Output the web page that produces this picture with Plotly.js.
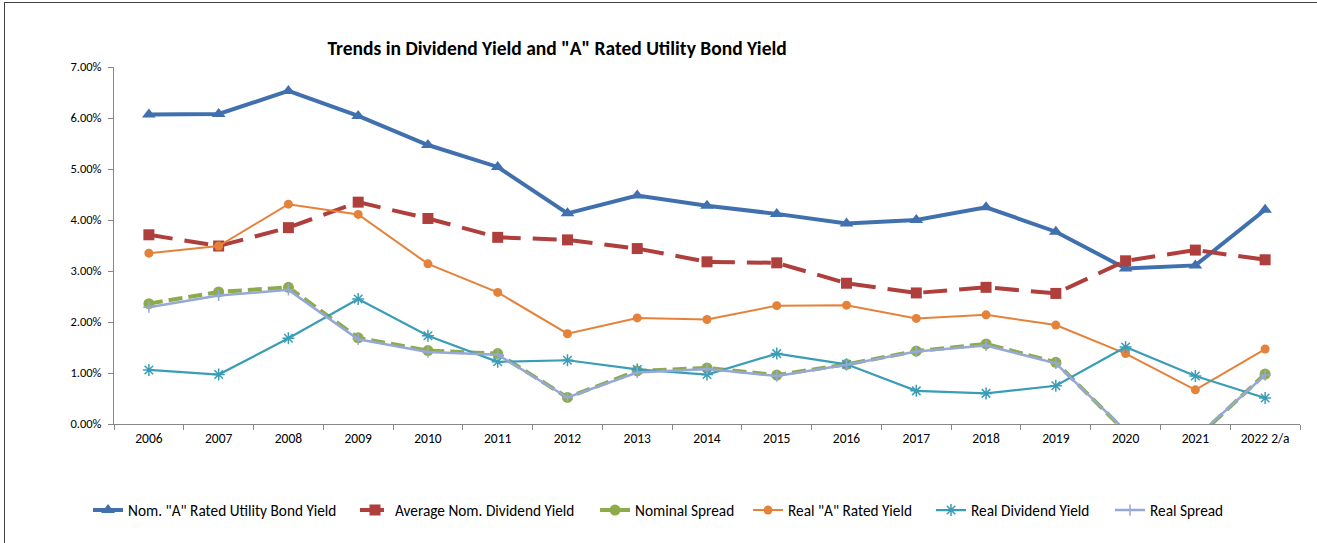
<!DOCTYPE html>
<html>
<head>
<meta charset="utf-8">
<script src="https://cdn.plot.ly/plotly-3.0.1.min.js"></script>
<style>
  html, body { margin: 0; padding: 0; background: #fff; }
  #wrap { position: relative; width: 1317px; height: 543px; overflow: hidden; }
  #frame { position: absolute; left: 4px; top: 2px; width: 1400px; height: 600px; border-left: 1.5px solid #404040; border-top: 1.5px solid #404040; pointer-events: none; z-index: 5; }
  #chart { position: absolute; left: 0; top: 0; width: 1317px; height: 543px; }
</style>
</head>
<body>
<div id="wrap">
  <div id="chart"></div>
  <div id="frame"></div>
</div>
<script>
const years = ["2006","2007","2008","2009","2010","2011","2012","2013","2014","2015","2016","2017","2018","2019","2020","2021","2022 2/a"];

const nomBondYield   = [0.0607,0.0608,0.0653,0.0604,0.0547,0.0504,0.0413,0.0448,0.0428,0.0412,0.0393,0.0400,0.0425,0.0377,0.0305,0.0311,0.0420];
const avgNomDivYield = [0.0371,0.0349,0.0385,0.0435,0.0403,0.0366,0.0361,0.0344,0.0318,0.0316,0.0276,0.0257,0.0268,0.0256,0.0320,0.0341,0.0322];
const nominalSpread  = [0.0236,0.0259,0.0268,0.0169,0.0144,0.0138,0.0052,0.0104,0.0110,0.0096,0.0117,0.0143,0.0157,0.0121,-0.0015,-0.0030,0.0098];
const realARated     = [0.0335,0.0349,0.0431,0.0411,0.0314,0.0258,0.0177,0.0208,0.0205,0.0232,0.0233,0.0207,0.0214,0.0194,0.0138,0.0067,0.0147];
const realDivYield   = [0.0106,0.0097,0.0168,0.0245,0.0173,0.0122,0.0125,0.0107,0.0097,0.0138,0.0117,0.0065,0.0060,0.0075,0.0151,0.0094,0.0051];
const realSpread     = [0.0229,0.0252,0.0263,0.0166,0.0141,0.0136,0.0052,0.0101,0.0108,0.0094,0.0116,0.0142,0.0154,0.0119,-0.0013,-0.0027,0.0096];

const seriesNames = ['Nom. "A" Rated Utility Bond Yield','Average Nom. Dividend Yield','Nominal Spread','Real "A" Rated Yield','Real Dividend Yield','Real Spread'];

const FONT = 'Carlito, "Liberation Sans Narrow", "Open Sans", sans-serif';

const traces = [
  {x: years, y: nomBondYield, name: seriesNames[0], legend: 'legend', type: 'scatter', mode: 'lines+markers',
   line: {color: '#4070AE', width: 4}, marker: {symbol: 'triangle-up', size: 12, color: '#4070AE'}},
  {x: years, y: avgNomDivYield, name: seriesNames[1], legend: 'legend2', type: 'scatter', mode: 'lines+markers',
   line: {color: '#AE3F3C', width: 4, dash: '24px,12px'}, marker: {symbol: 'square', size: 11, color: '#AE3F3C'}},
  {x: years, y: nominalSpread, name: seriesNames[2], legend: 'legend3', type: 'scatter', mode: 'lines+markers',
   line: {color: '#8EAB4C', width: 4, dash: '14px,6px'}, marker: {symbol: 'circle', size: 11, color: '#8EAB4C'}},
  {x: years, y: realARated, name: seriesNames[3], legend: 'legend4', type: 'scatter', mode: 'lines+markers',
   line: {color: '#E5823A', width: 2}, marker: {symbol: 'circle', size: 9, color: '#E5823A'}},
  {x: years, y: realDivYield, name: seriesNames[4], legend: 'legend5', type: 'scatter', mode: 'lines+markers',
   line: {color: '#3A9DB6', width: 2.2}, marker: {symbol: 'asterisk-open', size: 10, color: '#3A9DB6', line: {color: '#3A9DB6', width: 1.5}}},
  {x: years, y: realSpread, name: seriesNames[5], legend: 'legend6', type: 'scatter', mode: 'lines+markers',
   line: {color: '#95A8D6', width: 2.5}, marker: {symbol: 'cross-thin-open', size: 8, color: '#95A8D6', line: {color: '#95A8D6', width: 1.5}}}
];

function leg(x) {
  return {
    orientation: 'h', x: x, xanchor: 'left', y: -0.195, yanchor: 'top', yref: 'paper',
    font: {size: 15.3, color: '#000000', family: FONT},
    itemwidth: 30, bgcolor: 'rgba(0,0,0,0)', borderwidth: 0
  };
}

const layout = {
  width: 1317, height: 543,
  margin: {l: 114, r: 17, t: 67, b: 119},
  paper_bgcolor: '#ffffff', plot_bgcolor: '#ffffff',
  font: {family: FONT, color: '#000000', size: 12},
  title: {
    text: '<b>Trends in Dividend Yield and "A" Rated Utility Bond Yield</b>',
    font: {size: 19.5, color: '#000000', family: FONT},
    x: 0.423, xref: 'container', xanchor: 'center',
    y: 0.912, yref: 'container', yanchor: 'middle'
  },
  xaxis: {
    type: 'category',
    showgrid: false, zeroline: false,
    showline: true, linecolor: '#888888', linewidth: 1,
    ticks: 'outside', tickson: 'boundaries', ticklen: 5, tickcolor: '#888888',
    tickfont: {size: 13.5, color: '#000000', family: FONT},
    ticklabelstandoff: 2,
    range: [-0.5, 16.5], fixedrange: true
  },
  yaxis: {
    range: [0, 0.07], dtick: 0.01, tick0: 0,
    tickformat: '.2%',
    showgrid: false, zeroline: false,
    showline: true, linecolor: '#888888', linewidth: 1,
    ticks: 'outside', ticklen: 5, tickcolor: '#888888',
    tickfont: {size: 12.5, color: '#000000', family: FONT},
    ticklabelstandoff: 4
  },
  showlegend: true,
  legend: leg(-0.0219),
  legend2: leg(0.2032),
  legend3: leg(0.4056),
  legend4: leg(0.5346),
  legend5: leg(0.6889),
  legend6: leg(0.8398),
  hovermode: false
};

Plotly.newPlot('chart', traces, layout, {displayModeBar: false, staticPlot: true});
</script>
</body>
</html>
